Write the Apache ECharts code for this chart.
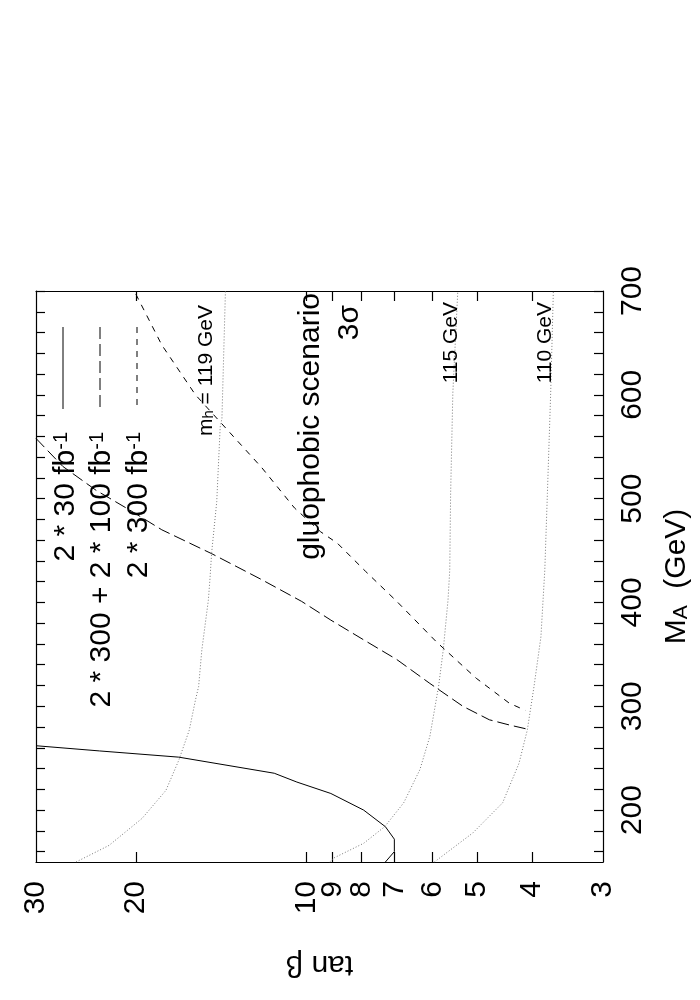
<!DOCTYPE html>
<html>
<head>
<meta charset="utf-8">
<script src="https://cdn.jsdelivr.net/npm/echarts@6/dist/echarts.min.js"></script>
<style>
html,body{margin:0;padding:0;background:#fff;}
#chart{width:700px;height:1000px;}
</style>
</head>
<body>
<div id="chart"></div>
<script>
// tan beta tick labels and M_A tick labels
var tanbLabels = [3, 4, 5, 6, 7, 8, 9, 10, 20, 30];
var tanbTicks = [4, 5, 6, 7, 8, 9, 10, 20];
var maLabels = [200, 300, 400, 500, 600, 700];
var maTicks = [160,180,200,220,240,260,280,300,320,340,360,380,400,420,440,460,480,500,520,540,560,580,600,620,640,660,680,700];

// curves: [tan beta, M_A]
var lumi30 = [[30,262],[23.2,257],[16.8,251],[11.4,235.5],[10.4,227],[9.06,216],[7.93,200],[7.26,184],[7.0,172],[7.0,160],[7.26,150]];
var lumi300_100 = [[30,558],[26.9,531],[23.5,508],[20.5,489],[18.0,470],[14.7,447],[12.0,422],[10.2,401],[9.06,383],[7.93,364],[6.93,345],[6.06,322],[5.30,300],[4.76,287],[4.39,282],[4.08,278]];
var lumi300 = [[20.0,697],[18.0,648],[15.7,600],[14.1,572],[12.0,530],[10.5,491],[9.44,468],[8.82,457],[7.87,430],[6.93,401],[5.9,362],[5.02,327],[4.39,303],[4.11,296]];
var mh119 = [[25.5,150],[22.3,166],[19.5,192],[17.7,219],[16.8,248],[16.1,277],[15.7,306],[15.5,319],[15.3,354],[14.9,402],[14.8,423],[14.7,448],[14.4,497],[14.2,569],[14.1,577],[13.9,700]];
var mh115 = [[9.1,150],[8.94,154],[7.93,168],[7.28,184],[6.74,207],[6.31,239],[6.06,271],[5.85,319],[5.74,354],[5.63,402],[5.59,431],[5.57,505],[5.52,602],[5.41,700]];
var mh110 = [[5.95,150],[5.09,178],[4.51,207],[4.22,245],[4.08,277],[3.97,319],[3.86,367],[3.80,431],[3.76,505],[3.71,602],[3.67,700]];

var FONT = 'Liberation Sans';
var BIG = 30;
var chart = echarts.init(document.getElementById('chart'));

function xAx(pos, showLabel, name) {
  return {
    type: 'log', logBase: 10, min: 3, max: 30, inverse: true, position: pos,
    gridIndex: 0,
    axisLine: {show: true, onZero: false, lineStyle: {color: '#000', width: 1.2}},
    axisTick: {show: true, inside: true, length: 10, customValues: tanbTicks, lineStyle: {color: '#000', width: 1.2}},
    axisLabel: {show: showLabel, customValues: tanbLabels, rotate: 90, margin: 19, fontSize: BIG, fontFamily: FONT, color: '#000', formatter: function(v){return String(Math.round(v));}},
    splitLine: {show: false}, minorTick: {show: false},
    name: name, nameLocation: 'middle', nameRotate: 180, nameGap: 87,
    nameTextStyle: {fontSize: BIG, fontFamily: FONT, color: '#000'}
  };
}
function yAx(pos, showLabel, name) {
  return {
    type: 'value', min: 150, max: 700, position: pos, gridIndex: 0,
    axisLine: {show: true, onZero: false, lineStyle: {color: '#000', width: 1.2}},
    axisTick: {show: true, inside: true, length: 9, customValues: maTicks, lineStyle: {color: '#000', width: 1.2}},
    axisLabel: {show: showLabel, customValues: maLabels, rotate: 90, margin: 15, fontSize: BIG, fontFamily: FONT, color: '#000'},
    splitLine: {show: false},
    name: name, nameLocation: 'middle', nameRotate: 90, nameGap: 58,
    nameTextStyle: {fontSize: BIG, fontFamily: FONT, color: '#000',
      rich: {a: {fontSize: BIG, fontFamily: FONT, color: '#000'}, s: {fontSize: 21, fontFamily: FONT, color: '#000', verticalAlign: 'bottom', padding: [10,0,0,0]}}}
  };
}

function ser(data, type, color) {
  return {
    type: 'line', data: data, xAxisIndex: 0, yAxisIndex: 0, symbol: 'none', silent: true,
    smooth: false, clip: true,
    lineStyle: {color: color, width: 1, type: type}
  };
}

function rtext(x, y, text, size, rich) {
  var st = {text: text, fontSize: size, fontFamily: FONT, fill: '#000',
    align: 'right', verticalAlign: 'middle', textAlign: 'right', textVerticalAlign: 'middle'};
  if (rich) st.rich = rich;
  return {type: 'text', x: x, y: y, rotation: Math.PI / 2, style: st, z: 10};
}
var supRich = {n: {fontSize: BIG, fontFamily: FONT, fill: '#000'}, sup: {fontSize: 20, fontFamily: FONT, fill: '#000', verticalAlign: 'top'}};
var subRich = {n: {fontSize: 21, fontFamily: FONT, fill: '#000'}, sub: {fontSize: 15, fontFamily: FONT, fill: '#000', verticalAlign: 'bottom'}};

var option = {
  animation: false,
  backgroundColor: '#fff',
  grid: {left: 36, top: 291, width: 572, height: 571, containLabel: false},
  xAxis: [xAx('bottom', true, 'tan β'), xAx('top', false, '')],
  yAxis: [yAx('right', true, '{a|M}{s|A}{a|  (GeV)}'), yAx('left', false, '')],
  series: [
    ser(mh119, [1, 2], '#777'),
    ser(mh115, [1, 2], '#777'),
    ser(mh110, [1, 2], '#777'),
    ser(lumi30, 'solid', '#000'),
    ser(lumi300_100, [12, 5], '#000'),
    ser(lumi300, [6, 6], '#000')
  ],
  graphic: [
    rtext(66, 432, '{n|2 * 30 fb}{sup|-1}', BIG, supRich),
    rtext(102, 432, '{n|2 * 300 + 2 * 100 fb}{sup|-1}', BIG, supRich),
    rtext(139, 432, '{n|2 * 300 fb}{sup|-1}', BIG, supRich),
    {type: 'line', shape: {x1: 63, y1: 327, x2: 63, y2: 409}, style: {stroke: '#000', lineWidth: 1}},
    {type: 'line', shape: {x1: 100, y1: 327, x2: 100, y2: 409}, style: {stroke: '#000', lineWidth: 1, lineDash: [12, 5]}},
    {type: 'line', shape: {x1: 137, y1: 327, x2: 137, y2: 409}, style: {stroke: '#000', lineWidth: 1, lineDash: [6, 6]}},
    rtext(206, 305, '{n|m}{sub|h}{n| = 119 GeV}', 21, subRich),
    rtext(311, 293, 'gluophobic scenario', BIG),
    rtext(350, 305, '3σ', BIG),
    rtext(451, 302, '115 GeV', 21),
    rtext(545, 302, '110 GeV', 21)
  ]
};
chart.setOption(option);
</script>
</body>
</html>
